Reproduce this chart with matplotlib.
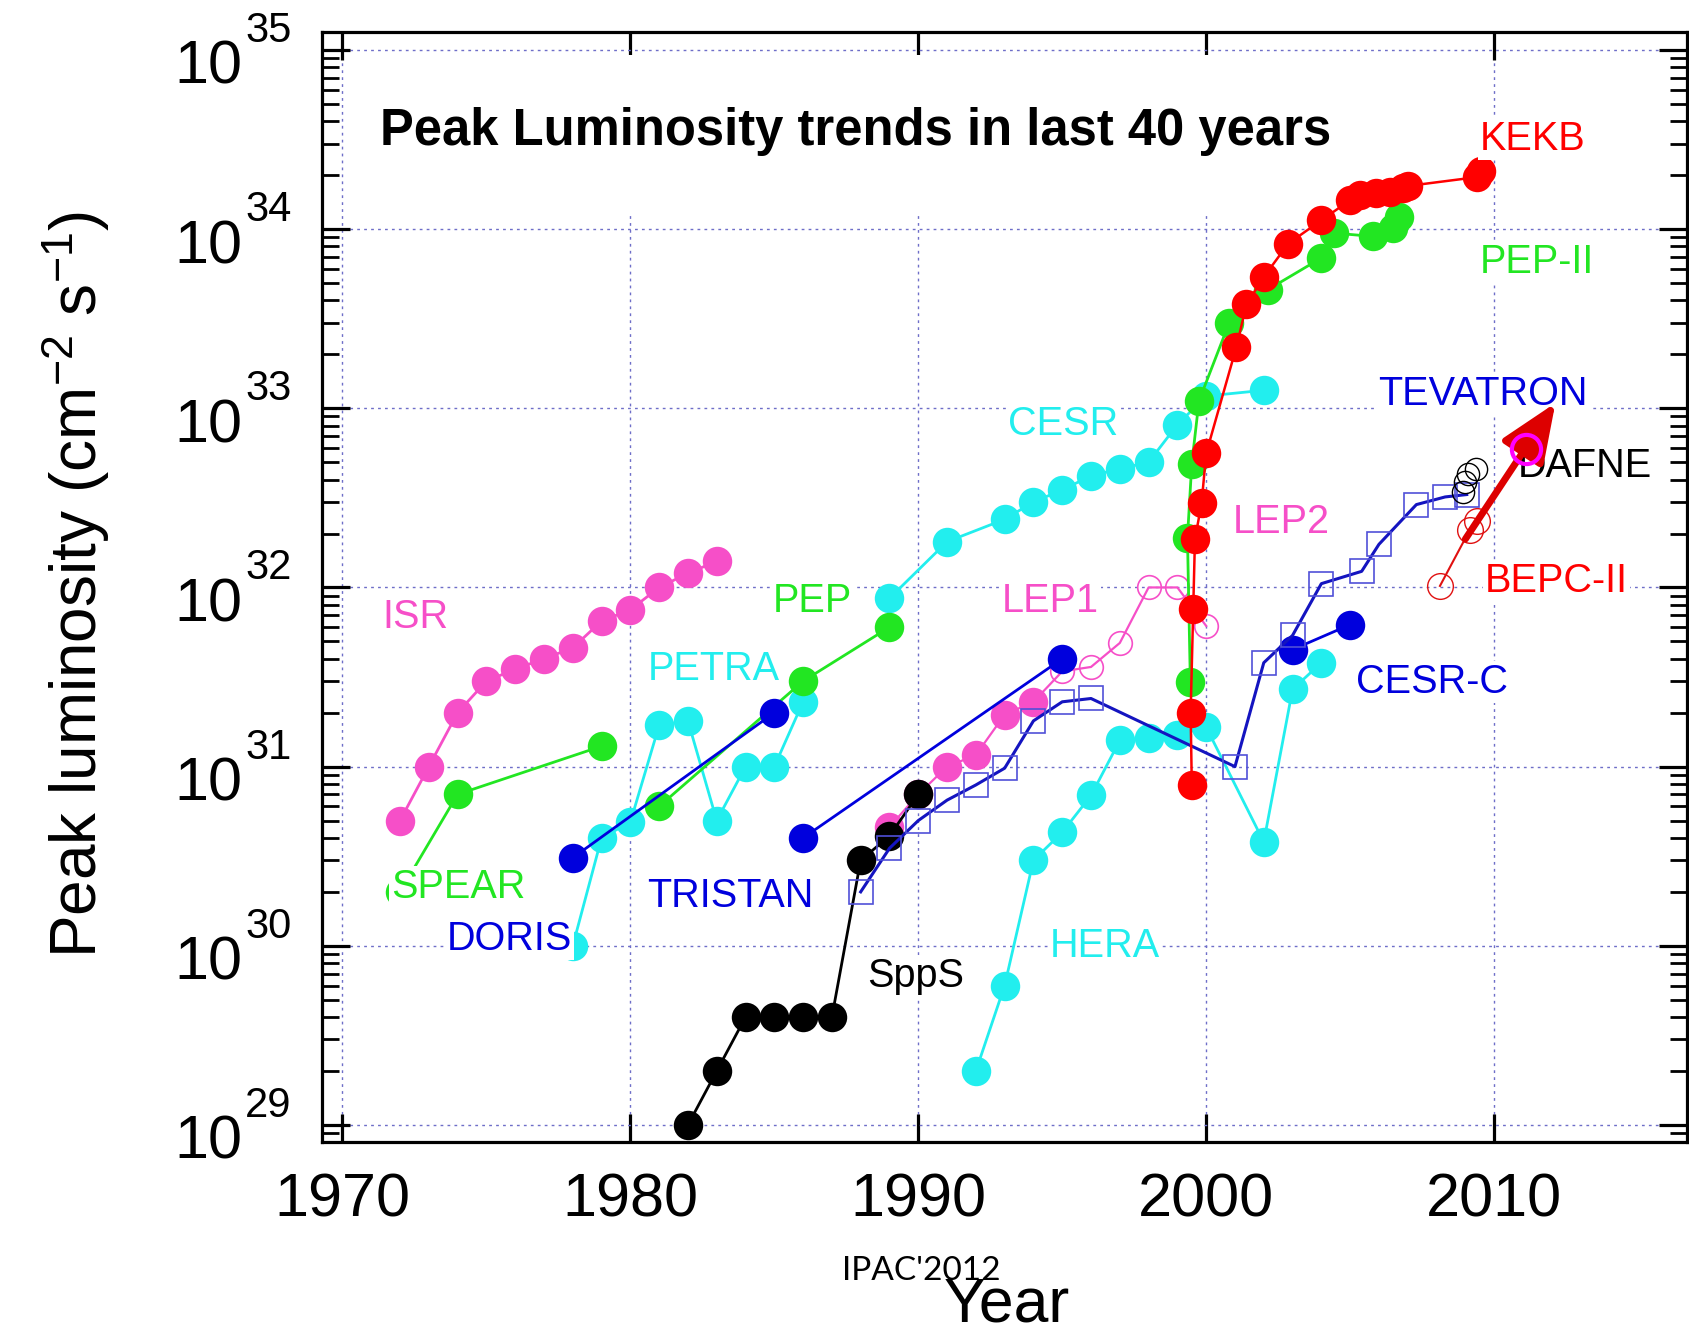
import matplotlib
matplotlib.use("Agg")
import matplotlib.pyplot as plt
from matplotlib.ticker import FixedLocator, LogLocator, NullFormatter
from matplotlib.patches import Rectangle
from matplotlib.transforms import offset_copy

plt.rcParams['font.family'] = ['Liberation Sans', 'DejaVu Sans']
plt.rcParams['mathtext.fontset'] = 'custom'
plt.rcParams['mathtext.rm'] = 'Liberation Sans'
plt.rcParams['mathtext.it'] = 'Liberation Sans:italic'
plt.rcParams['mathtext.bf'] = 'Liberation Sans:bold'

# ---- data (year, peak luminosity in cm^-2 s^-1) ----
isr_year = [1972, 1973, 1974, 1975, 1976, 1977, 1978, 1979, 1980, 1981, 1982, 1983]
isr_lum = [5.0e30, 1.0e31, 2.0e31, 3.0e31, 3.5e31, 4.0e31, 4.6e31, 6.5e31, 7.5e31, 1.0e32, 1.2e32, 1.4e32]

spear_year = [1972, 1974, 1979]
spear_lum = [2.0e30, 7.0e30, 1.3e31]

pep_year = [1981, 1986, 1989]
pep_lum = [6.0e30, 3.0e31, 6.0e31]

petra_year = [1978, 1979, 1980, 1981, 1982, 1983, 1984, 1985, 1986]
petra_lum = [1.0e30, 4.0e30, 4.9e30, 1.7e31, 1.8e31, 5.0e30, 1.0e31, 1.0e31, 2.3e31]

cesr_year = [1989, 1991, 1993, 1994, 1995, 1996, 1997, 1998, 1999, 2000, 2002]
cesr_lum = [8.7e31, 1.8e32, 2.4e32, 3.0e32, 3.5e32, 4.2e32, 4.6e32, 5.0e32, 8.1e32, 1.17e33, 1.26e33]

doris_year = [1978, 1985]
doris_lum = [3.1e30, 2.0e31]

tristan_year = [1986, 1995]
tristan_lum = [4.0e30, 4.0e31]

cesrc_year = [2003, 2005]
cesrc_lum = [4.5e31, 6.2e31]

hera_year = [1992, 1993, 1994, 1995, 1996, 1997, 1998, 1999, 2000, 2002, 2003, 2004]
hera_lum = [2.0e29, 6.0e29, 3.0e30, 4.3e30, 6.9e30, 1.4e31, 1.45e31, 1.5e31, 1.66e31, 3.8e30, 2.7e31, 3.8e31]

spps_year = [1982, 1983, 1984, 1985, 1986, 1987, 1988, 1989, 1990]
spps_lum = [1.0e29, 2.0e29, 4.0e29, 4.0e29, 4.0e29, 4.0e29, 3.0e30, 4.1e30, 7.0e30]

lep1_year = [1989, 1990, 1991, 1992, 1993, 1994]
lep1_lum = [4.6e30, 7.0e30, 1.0e31, 1.16e31, 1.95e31, 2.3e31]
lep2_year = [1995, 1996, 1997, 1998, 1999, 2000]
lep2_lum = [3.4e31, 3.6e31, 4.9e31, 1.0e32, 1.0e32, 6.1e31]

tev_year = [1988, 1989, 1990, 1991, 1992, 1993, 1994, 1995, 1996,
            2001, 2002, 2003, 2004, 2005.4, 2006, 2007.3, 2008.3, 2009.05]
tev_lum = [2.0e30, 3.5e30, 5.0e30, 6.5e30, 7.9e30, 9.8e30, 1.8e31, 2.3e31, 2.4e31,
           1.0e31, 3.8e31, 5.4e31, 1.05e32, 1.23e32, 1.74e32, 2.9e32, 3.2e32, 3.3e32]

dafne_year = [2008.93, 2009.0, 2009.1, 2009.38]
dafne_lum = [3.4e32, 3.9e32, 4.3e32, 4.6e32]

bepc_year = [2008.12, 2009.16, 2009.4]
bepc_lum = [1.02e32, 2.1e32, 2.35e32]
bepc_goal_year = 2011.1
bepc_goal_lum = 5.9e32

kekb_year = [1999.5, 1999.46, 1999.55, 1999.61, 1999.84, 2000.0, 2001.05, 2001.4, 2002.0,
             2002.85, 2004.0, 2005.0, 2005.35, 2005.9, 2006.4, 2006.85, 2007.0, 2009.4, 2009.55]
kekb_lum = [7.9e30, 2.0e31, 7.6e31, 1.86e32, 2.95e32, 5.6e32, 2.2e33, 3.8e33, 5.4e33,
            8.3e33, 1.12e34, 1.45e34, 1.55e34, 1.58e34, 1.62e34, 1.7e34, 1.74e34, 1.95e34, 2.1e34]

pep2_year = [1999.45, 1999.35, 1999.5, 1999.75, 2000.8, 2002.15, 2004.0, 2004.45, 2005.8, 2006.5, 2006.7]
pep2_lum = [2.95e31, 1.9e32, 4.9e32, 1.1e33, 3.0e33, 4.6e33, 6.9e33, 9.5e33, 9.1e33, 1.02e34, 1.17e34]

arrow_from = (2009.0, 1.86e32)
arrow_to = (2012.13, 1.07e33)

decades = [29, 30, 31, 32, 33, 34, 35]
year_ticks = [1970, 1980, 1990, 2000, 2010]

PINK = '#f64fc8'
GREEN = '#22e622'
CYAN = '#22eeee'
BLUE = '#0000dd'
RED = '#ff0000'

fig = plt.figure(figsize=(16.89, 13.32), dpi=100)
W, H = 1689.0, 1332.0
ax = fig.add_axes([322 / W, 1 - 1142 / H, (1687 - 322) / W, (1142 - 32) / H])
ax.set_yscale('log')
ax.set_xlim(1969.29, 2016.70)
ax.set_ylim(10 ** 28.905, 10 ** 35.10)


def series(x, y, color, z, filled=True, ms=20, lw=2.0, marker='o', mec=None, mew=1.2, ls='-'):
    ax.plot(x, y, linestyle=ls, color=color, lw=lw, marker=marker, ms=ms,
            mfc=color if filled else 'none', mec=mec or color, mew=mew, zorder=z)


series(hera_year, hera_lum, CYAN, 3)
series(cesr_year, cesr_lum, CYAN, 3)
series(petra_year, petra_lum, CYAN, 3)
series(isr_year, isr_lum, PINK, 3)
ax.plot(lep1_year + lep2_year, lep1_lum + lep2_lum, color=PINK, lw=1.6, zorder=3.5)
series(lep1_year, lep1_lum, PINK, 3.5, ls='none')
series(lep2_year, lep2_lum, PINK, 3.5, filled=False, ms=17, ls='none')
series(spear_year, spear_lum, GREEN, 4)
series(pep_year, pep_lum, GREEN, 4)
series(doris_year, doris_lum, BLUE, 5)
series(tristan_year, tristan_lum, BLUE, 5)
series(cesrc_year, cesrc_lum, BLUE, 5)
series(spps_year, spps_lum, 'black', 5)
series(tev_year, tev_lum, '#1414c0', 6, filled=False, marker='s', ms=17, mec='#5050d8', lw=2.2)
series(dafne_year, dafne_lum, 'black', 6, filled=False, ms=16, ls='none', mew=1.0)
series(bepc_year, bepc_lum, '#e01010', 6, filled=False, ms=18.5, lw=1.5, mew=1.0)
series(pep2_year, pep2_lum, GREEN, 7)
series(kekb_year, kekb_lum, RED, 8, lw=1.8)

ax.annotate('', xy=arrow_to, xytext=arrow_from, zorder=11,
            arrowprops=dict(arrowstyle='-|>,head_length=36,head_width=15', mutation_scale=1,
                            color='#dd0000', lw=5, shrinkA=0, shrinkB=0))
ax.plot([bepc_goal_year], [bepc_goal_lum], 'o', ms=21, mfc='none', mec='#ff00ff', mew=3, zorder=12)

# series labels
labels = [
    ('KEKB', 2009.5, 34.442, RED),
    ('PEP-II', 2009.5, 33.754, GREEN),
    ('TEVATRON', 2005.98, 33.019, BLUE),
    ('DAFNE', 2010.82, 32.618, 'black'),
    ('BEPC-II', 2009.68, 31.977, RED),
    ('CESR-C', 2005.21, 31.41, BLUE),
    ('LEP2', 2000.91, 32.303, PINK),
    ('CESR', 1993.13, 32.851, CYAN),
    ('LEP1', 1992.9, 31.865, PINK),
    ('PEP', 1984.96, 31.865, GREEN),
    ('ISR', 1971.38, 31.772, PINK),
    ('PETRA', 1980.62, 31.484, CYAN),
    ('SPEAR', 1971.68, 30.265, GREEN),
    ('DORIS', 1973.61, 29.977, BLUE),
    ('TRISTAN', 1980.57, 30.218, BLUE),
    ('SppS', 1988.21, 29.772, 'black'),
    ('HERA', 1994.57, 29.94, CYAN),
]
for name, lx, ly, c in labels:
    ax.text(lx, 10 ** ly, name, color=c, fontsize=28.5, ha='left', va='baseline', zorder=10,
            bbox=dict(facecolor='white', edgecolor='none', pad=1.5))

# white band behind the title
ax.add_patch(Rectangle((0.028, 0.837), 0.72, 0.142, transform=ax.transAxes,
                       facecolor='white', edgecolor='none', zorder=1))

# axes styling
ax.set_axisbelow(True)
ax.grid(True, which='major', color='#6e6ec8', linestyle=(0, (2, 3)), lw=1.0)
for s in ax.spines.values():
    s.set_linewidth(2.3)
ax.xaxis.set_major_locator(FixedLocator(year_ticks))
ax.yaxis.set_major_locator(FixedLocator([10.0 ** e for e in decades]))
ax.yaxis.set_minor_locator(LogLocator(base=10, subs=range(2, 10), numticks=20))
ax.yaxis.set_major_formatter(NullFormatter())
ax.yaxis.set_minor_formatter(NullFormatter())
ax.tick_params(which='major', direction='in', length=20, width=2.3, top=True, right=True,
               labelsize=44, pad=22)
ax.tick_params(which='minor', direction='in', length=12, width=2.0, top=False, right=True)

# y tick labels drawn as "10" plus a raised exponent
ytr = ax.get_yaxis_transform()
base_tr = offset_copy(ytr, fig=fig, x=0, y=-34, units='dots')
exp_tr = offset_copy(ytr, fig=fig, x=0, y=8, units='dots')
for e in decades:
    ax.text((242 - 322) / 1365, 10.0 ** e, '10', transform=base_tr, fontsize=44,
            ha='right', va='baseline', clip_on=False)
    ax.text((245 - 322) / 1365, 10.0 ** e, str(e), transform=exp_tr, fontsize=30,
            ha='left', va='baseline', clip_on=False)

fig.text(97 / W, 1 - 584.5 / H, r'Peak luminosity (cm$^{-2}$ s$^{-1}$)', fontsize=46,
         rotation=90, rotation_mode='anchor', ha='center', va='baseline')
fig.text(1007 / W, 1 - 1321.7 / H, 'Year', fontsize=45, ha='center', va='baseline')
fig.text(921 / W, 1 - 1280 / H, "IPAC'2012", fontsize=24, family='Lato', ha='center', va='baseline')
fig.text(380 / W, 1 - 145 / H, 'Peak Luminosity trends in last 40 years', fontsize=36.5,
         weight='bold', ha='left', va='baseline')

fig.savefig('out.png', dpi=100)
